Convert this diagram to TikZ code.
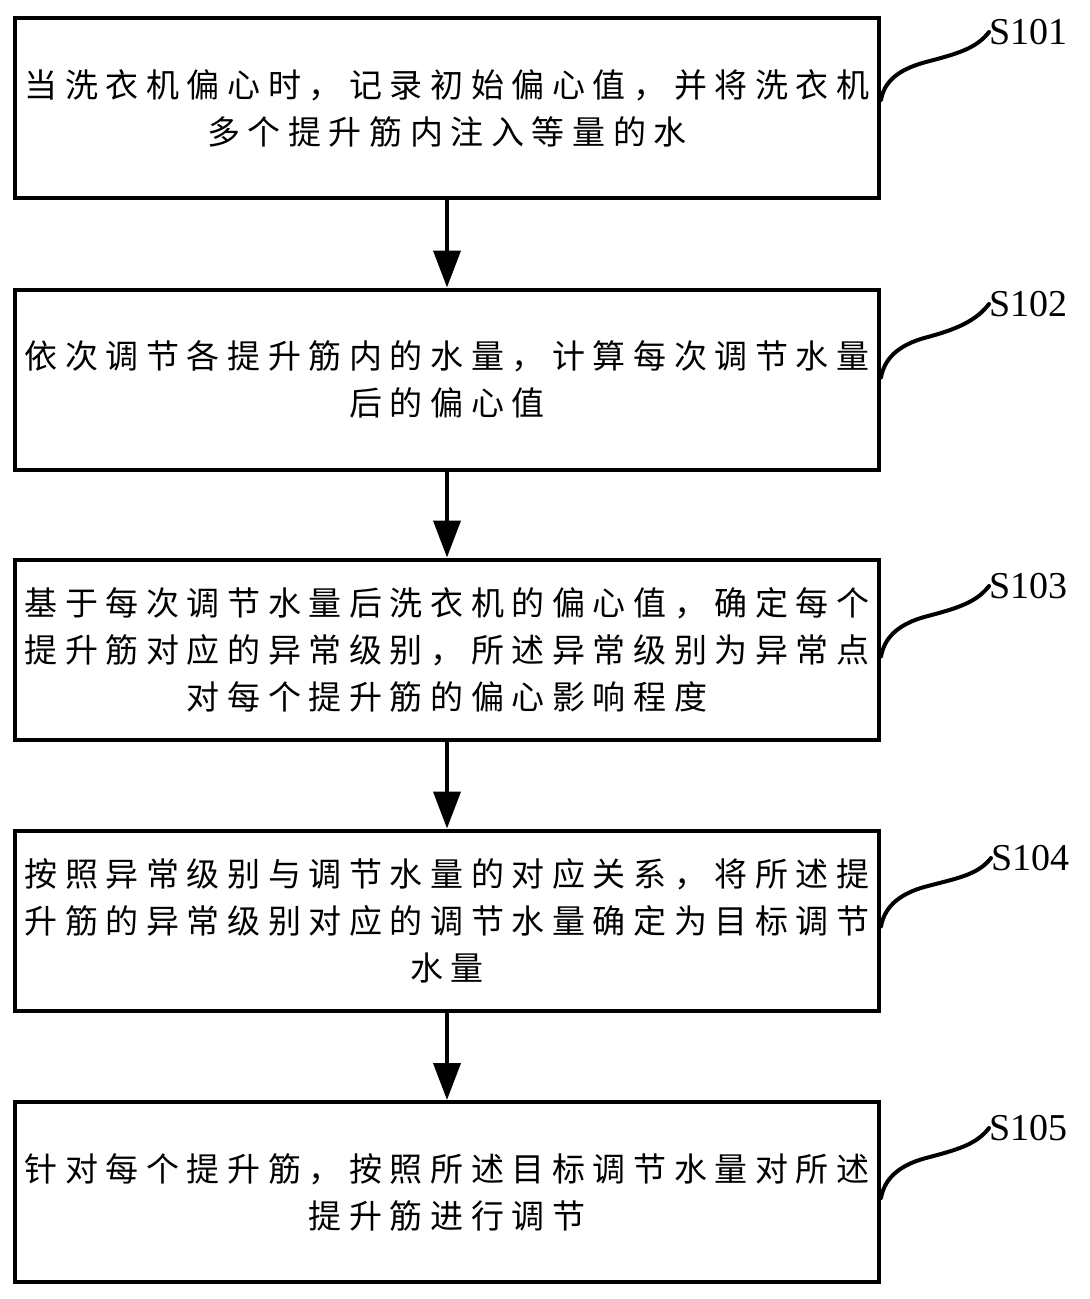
\documentclass[tikz,border=0pt]{standalone}
\usepackage{fontspec}
\setmainfont{Liberation Serif}
\newfontfamily\cjk[LetterSpace=23]{Noto Sans CJK SC}
\usetikzlibrary{arrows.meta,calc}
\begin{document}
\begin{tikzpicture}[x=1pt,y=-1pt,
  box/.style={draw,line width=4pt,minimum width=864pt,minimum height=180pt,inner sep=0pt,align=center,font=\cjk\fontsize{33pt}{47pt}\selectfont},
  flow/.style={line width=4pt,-{Triangle[width=27pt,length=37pt]}},
  tag/.style={anchor=west,inner sep=0pt,font=\fontsize{38pt}{42pt}\selectfont},
  lead/.style={line width=4pt,line cap=round}]
\useasboundingbox[fill=white] (0,0) rectangle (1090,1299);

\node[box] (b1) at (447,108) {当洗衣机偏心时，记录初始偏心值，并将洗衣机\\多个提升筋内注入等量的水};
\node[box] (b2) at (447,379.5) {依次调节各提升筋内的水量，计算每次调节水量\\后的偏心值};
\node[box] (b3) at (447,649.5) {基于每次调节水量后洗衣机的偏心值，确定每个\\提升筋对应的异常级别，所述异常级别为异常点\\对每个提升筋的偏心影响程度};
\node[box] (b4) at (447,920.5) {按照异常级别与调节水量的对应关系，将所述提\\升筋的异常级别对应的调节水量确定为目标调节\\水量};
\node[box] (b5) at (447,1192) {针对每个提升筋，按照所述目标调节水量对所述\\提升筋进行调节};

\node[tag] (l1) at (989,32) {S101};
\node[tag] (l2) at (989,304) {S102};
\node[tag] (l3) at (989,586) {S103};
\node[tag] (l4) at (991,858) {S104};
\node[tag] (l5) at (989,1128) {S105};

\draw[flow] (b1.south) -- (b2.north);
\draw[flow] (b2.south) -- (b3.north);
\draw[flow] (b3.south) -- (b4.north);
\draw[flow] (b4.south) -- (b5.north);

\draw[lead] ($(b1.east)+(0,-8)$) .. controls +(3,-17) and +(-30,8) .. ++(45,-38) .. controls +(30,-8) and +(-13,17) .. (l1.west);
\draw[lead] ($(b2.east)+(0,-2)$) .. controls +(3,-17) and +(-30,8) .. ++(45,-40) .. controls +(30,-8) and +(-13,17) .. (l2.west);
\draw[lead] ($(b3.east)+(0,7)$) .. controls +(3,-17) and +(-30,8) .. ++(45,-40) .. controls +(30,-8) and +(-13,17) .. (l3.west);
\draw[lead] ($(b4.east)+(0,6)$) .. controls +(3,-17) and +(-30,8) .. ++(45,-40) .. controls +(30,-8) and +(-13,17) .. (l4.west);
\draw[lead] ($(b5.east)+(0,6)$) .. controls +(3,-17) and +(-30,8) .. ++(45,-40) .. controls +(30,-8) and +(-13,17) .. (l5.west);
\end{tikzpicture}
\end{document}
